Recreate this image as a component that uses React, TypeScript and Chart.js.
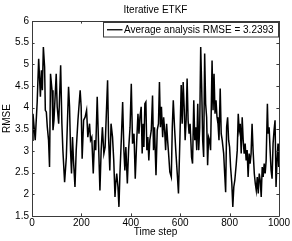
import React, { useEffect, useRef } from "react";
import { Chart, registerables } from "chart.js";

Chart.register(...registerables);

const TITLE = "Iterative ETKF";
const X_LABEL = "Time step";
const Y_LABEL = "RMSE";
const SERIES_LABEL = "Average analysis RMSE = 3.2393";

const X_TICKS = [0, 200, 400, 600, 800, 1000];
const Y_TICKS = [1.5, 2, 2.5, 3, 3.5, 4, 4.5, 5, 5.5, 6];

const STEPS = [
  0, 4, 13, 21, 27, 34, 38, 42, 46, 51, 54, 58, 62, 67, 71, 75, 81, 85, 89, 98,
  102, 108, 116, 121, 125, 132, 139, 148, 152, 156, 160, 164, 168, 174, 179, 186, 195, 199, 203, 209,
  215, 221, 226, 233, 237, 242, 248, 253, 258, 264, 269, 275, 280, 285, 291, 296, 306, 310, 315, 320,
  326, 331, 336, 339, 343, 348, 352, 356, 362, 367, 372, 376, 380, 386, 391, 397, 402, 407, 413, 418,
  424, 429, 433, 437, 442, 446, 450, 453, 457, 461, 465, 469, 473, 477, 483, 488, 492, 496, 502, 507,
  512, 516, 520, 524, 529, 533, 537, 541, 545, 549, 553, 558, 564, 568, 572, 577, 582, 588, 593, 599,
  604, 608, 612, 616, 620, 624, 628, 632, 636, 640, 646, 650, 655, 659, 663, 667, 671, 675, 679, 683,
  687, 691, 695, 699, 703, 707, 711, 715, 719, 723, 729, 733, 737, 741, 745, 749, 753, 757, 762, 766,
  770, 776, 780, 784, 788, 792, 796, 800, 804, 809, 813, 817, 821, 827, 831, 835, 839, 843, 847, 851,
  855, 859, 863, 867, 871, 875, 879, 883, 887, 891, 895, 900, 904, 908, 912, 916, 920, 924, 928, 932,
  936, 940, 944, 948, 953, 956, 960, 964, 968, 972, 976, 980, 984, 988, 992, 996, 999, 1000,
];

const RMSE = [
  3.25, 3.86, 3.25, 4.13, 5.13, 4.25, 4.86, 4.4, 5.4, 4.94, 3.94, 3.9, 3.55, 3.25, 2.63, 4.78, 4.4, 3.48, 3.71, 4.78,
  4.02, 3.63, 4.98, 3.63, 3.02, 2.28, 2.86, 4.48, 4.02, 3.02, 2.48, 3.32, 2.78, 2.17, 3.02, 3.71, 4.4, 4.02, 2.82, 3.71,
  3.78, 3.94, 3.32, 3.63, 3.25, 3.32, 2.48, 3.25, 3.02, 4.25, 3.25, 2.09, 3.02, 3.55, 2.94, 3.09, 4.63, 3.32, 2.55, 3.63,
  3.32, 2.78, 1.94, 2.25, 2.48, 2.17, 1.71, 2.48, 3.32, 4.13, 3.02, 2.55, 3.09, 2.25, 3.02, 3.55, 4.55, 3.17, 3.4, 2.36,
  3.25, 3.86, 3.4, 3.78, 4.02, 2.94, 3.63, 3.09, 4.09, 4.13, 3.02, 3.32, 2.78, 3.25, 3.48, 4.28, 3.02, 3.55, 2.44, 3.48,
  3.63, 4.59, 3.55, 4.02, 3.32, 3.78, 3.48, 3.02, 3.63, 3.25, 2.94, 2.52, 2.4, 3.55, 4.17, 3.55, 3.02, 2.48, 2.02, 3.32,
  4.52, 3.63, 4.59, 4.02, 3.25, 3.71, 4.67, 3.71, 3.4, 3.63, 2.86, 2.71, 4.17, 3.25, 3.55, 3.02, 4.09, 3.02, 3.55, 5.4,
  4.48, 3.25, 2.86, 5.25, 4.09, 3.78, 2.67, 3.32, 3.25, 3.02, 5.09, 3.94, 4.78, 3.86, 4.17, 3.78, 3.63, 3.25, 4.44, 3.4,
  3.25, 2.94, 2.48, 2.05, 3.55, 3.78, 3.25, 3.09, 2.63, 2.25, 1.71, 2.17, 2.32, 2.71, 3.02, 3.86, 3.48, 3.63, 2.94, 3.78,
  3.25, 2.94, 3.17, 2.78, 3.02, 2.4, 2.94, 2.71, 2.94, 3.63, 3.02, 2.48, 2.25, 2.09, 2.4, 2.02, 2.48, 2.32, 1.94, 2.63,
  2.4, 2.71, 2.48, 2.78, 4.09, 3.4, 3.55, 3.02, 2.55, 2.36, 3.17, 3.48, 3.71, 2.17, 2.78, 3.17, 2.63, 2.9,
];

const FONT_FAMILY = '"Liberation Sans", Arial, Helvetica, sans-serif';
const FRAME = "#3a3a3a";

const framePlugin = {
  id: "matlabFrame",
  afterDraw(chart: any) {
    const { ctx, chartArea, scales } = chart;
    const { left, right, top, bottom } = chartArea;
    ctx.save();
    ctx.strokeStyle = FRAME;
    ctx.lineWidth = 1;
    ctx.beginPath();
    ctx.rect(Math.round(left) + 0.5, Math.round(top) + 0.5, Math.round(right - left), Math.round(bottom - top));
    ctx.stroke();
    const tl = 2.6;
    ctx.beginPath();
    for (const v of X_TICKS) {
      const x = Math.round(scales.x.getPixelForValue(v)) + 0.5;
      ctx.moveTo(x, bottom);
      ctx.lineTo(x, bottom - tl);
      ctx.moveTo(x, top);
      ctx.lineTo(x, top + tl);
    }
    for (const v of Y_TICKS) {
      const y = Math.round(scales.y.getPixelForValue(v)) + 0.5;
      ctx.moveTo(left, y);
      ctx.lineTo(left + tl, y);
      ctx.moveTo(right, y);
      ctx.lineTo(right - tl, y);
    }
    ctx.stroke();

    // legend box
    const bx = 103.5;
    const by = 22.5;
    const bw = 175;
    const bh = 14.5;
    ctx.fillStyle = "#fff";
    ctx.fillRect(bx, by, bw, bh);
    ctx.strokeStyle = FRAME;
    ctx.strokeRect(bx, by, bw, bh);
    const ds = chart.data.datasets[0];
    ctx.strokeStyle = "#000";
    ctx.lineWidth = 1.3;
    ctx.beginPath();
    ctx.moveTo(107, by + bh / 2);
    ctx.lineTo(122.5, by + bh / 2);
    ctx.stroke();
    ctx.fillStyle = "#000";
    ctx.font = `10px ${FONT_FAMILY}`;
    ctx.textBaseline = "middle";
    ctx.textAlign = "left";
    ctx.fillText(ds.label, 124, by + bh / 2 + 0.5);
    ctx.restore();
  },
};

export default function App() {
  const ref = useRef<HTMLCanvasElement | null>(null);
  useEffect(() => {
    if (!ref.current) return;
    const chart = new Chart(ref.current, {
      type: "line",
      data: {
        datasets: [
          {
            label: SERIES_LABEL,
            data: STEPS.map((s, i) => ({ x: s, y: RMSE[i] })),
            borderColor: "#000",
            borderWidth: 1.5,
            pointRadius: 0,
            tension: 0,
            fill: false,
          },
        ],
      },
      options: {
        animation: false,
        responsive: false,
        devicePixelRatio: 1,
        layout: { padding: { top: 0, right: 13, bottom: 0, left: 0 } },
        plugins: {
          legend: { display: false },
          tooltip: { enabled: false },
          title: {
            display: true,
            fullSize: false,
            text: TITLE,
            color: "#000",
            font: { family: FONT_FAMILY, size: 10, weight: "normal" },
            padding: { top: 4, bottom: 5 },
          },
        },
        scales: {
          x: {
            type: "linear",
            min: 0,
            max: 1000,
            afterBuildTicks: (s: any) => {
              s.ticks = X_TICKS.map((v) => ({ value: v }));
            },
            afterFit: (s: any) => {
              s.height = 25;
            },
            ticks: {
              autoSkip: false,
              maxRotation: 0,
              padding: 1,
              color: "#000",
              font: { family: FONT_FAMILY, size: 10 },
              callback: (v: any) => String(v),
            },
            grid: { display: false, drawTicks: false },
            border: { display: false },
            title: {
              display: true,
              text: X_LABEL,
              color: "#000",
              font: { family: FONT_FAMILY, size: 10 },
              padding: { top: 0, bottom: 2.5 },
            },
          },
          y: {
            type: "linear",
            min: 1.5,
            max: 6,
            afterBuildTicks: (s: any) => {
              s.ticks = Y_TICKS.map((v) => ({ value: v }));
            },
            afterFit: (s: any) => {
              s.width = 32;
            },
            ticks: {
              autoSkip: false,
              padding: 3,
              color: "#000",
              font: { family: FONT_FAMILY, size: 10 },
              callback: (v: any) => String(v),
            },
            grid: { display: false, drawTicks: false },
            border: { display: false },
            title: {
              display: true,
              text: Y_LABEL,
              color: "#000",
              font: { family: FONT_FAMILY, size: 10 },
              padding: { top: 1.5, bottom: 0 },
            },
          },
        },
      },
      plugins: [framePlugin],
    });
    return () => chart.destroy();
  }, []);
  return (
    <div style={{ position: "absolute", left: 0, top: 0, width: 292, height: 241, background: "#fff" }}>
      <canvas ref={ref} width={292} height={241} style={{ display: "block" }} />
    </div>
  );
}
